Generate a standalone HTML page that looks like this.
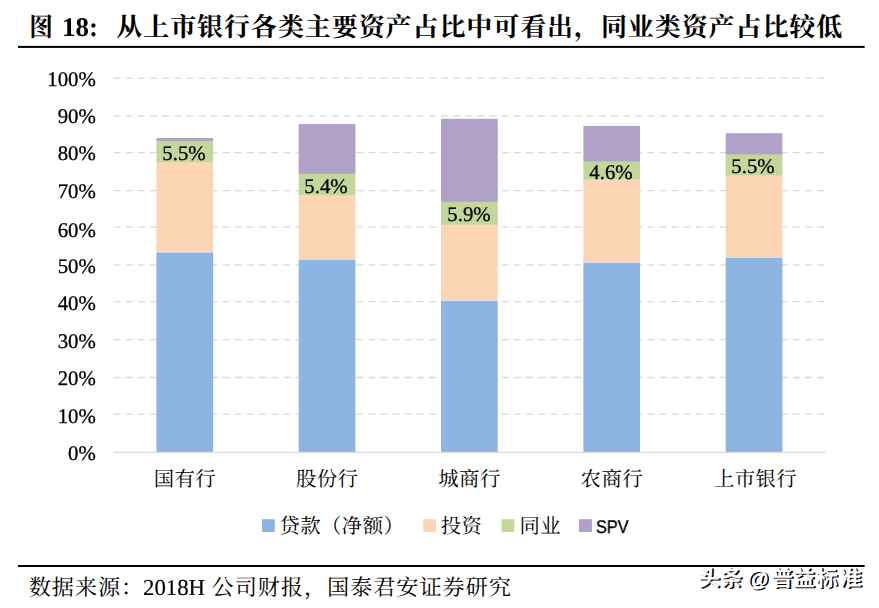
<!DOCTYPE html>
<html lang="zh-CN">
<head>
<meta charset="utf-8">
<title>图 18: 从上市银行各类主要资产占比中可看出，同业类资产占比较低</title>
<style>
html,body{margin:0;padding:0;background:#fff;}
body{width:879px;height:608px;position:relative;overflow:hidden;font-family:"Liberation Serif",serif;color:#000;text-rendering:geometricPrecision;}
#fig{position:absolute;left:0;top:0;width:879px;height:608px;}
#art{position:absolute;left:0;top:0;}
.t{position:absolute;white-space:pre;line-height:1;}
.t,.yl,.dl{will-change:transform;}
.yl,.dl{-webkit-text-stroke:0.3px #000;}
#snum{-webkit-text-stroke:0.15px #000;}
.yl{position:absolute;left:0;width:95.8px;text-align:right;font-size:20.8px;line-height:20.8px;height:20.8px;white-space:nowrap;}
.dl{position:absolute;width:80px;text-align:center;font-size:20.8px;line-height:20.8px;height:20.8px;white-space:nowrap;}
#tnum{left:62.0px;top:14.0px;font-size:27.0px;font-weight:bold;}
#snum{left:142.8px;top:577.2px;font-size:22.8px;}
#spv{left:596.2px;top:518.0px;font-size:18.4px;font-family:"Liberation Sans",sans-serif;transform:scaleX(0.885);transform-origin:0 0;-webkit-text-stroke:0.35px #000;}
</style>
</head>
<body>
<figure id="fig" style="margin:0">
<svg id="art" width="879" height="608" viewBox="0 0 879 608">
<line x1="113.6" x2="825.2" y1="414.10" y2="414.10" stroke="#D9D9D9" stroke-width="1.3" stroke-dasharray="7 5.13"/>
<line x1="113.6" x2="825.2" y1="377.50" y2="377.50" stroke="#D9D9D9" stroke-width="1.3" stroke-dasharray="7 5.13"/>
<line x1="113.6" x2="825.2" y1="339.60" y2="339.60" stroke="#D9D9D9" stroke-width="1.3" stroke-dasharray="7 5.13"/>
<line x1="113.6" x2="825.2" y1="301.60" y2="301.60" stroke="#D9D9D9" stroke-width="1.3" stroke-dasharray="7 5.13"/>
<line x1="113.6" x2="825.2" y1="264.80" y2="264.80" stroke="#D9D9D9" stroke-width="1.3" stroke-dasharray="7 5.13"/>
<line x1="113.6" x2="825.2" y1="226.90" y2="226.90" stroke="#D9D9D9" stroke-width="1.3" stroke-dasharray="7 5.13"/>
<line x1="113.6" x2="825.2" y1="190.60" y2="190.60" stroke="#D9D9D9" stroke-width="1.3" stroke-dasharray="7 5.13"/>
<line x1="113.6" x2="825.2" y1="152.70" y2="152.70" stroke="#D9D9D9" stroke-width="1.3" stroke-dasharray="7 5.13"/>
<line x1="113.6" x2="825.2" y1="115.80" y2="115.80" stroke="#D9D9D9" stroke-width="1.3" stroke-dasharray="7 5.13"/>
<line x1="113.6" x2="825.2" y1="78.20" y2="78.20" stroke="#D9D9D9" stroke-width="1.3" stroke-dasharray="7 5.13"/>
<rect x="156.41" y="252.40" width="56.70" height="200.00" fill="#8DB4E2"/>
<rect x="156.41" y="162.60" width="56.70" height="89.80" fill="#FCD5B4"/>
<rect x="156.41" y="141.40" width="56.70" height="21.20" fill="#C4D79B"/>
<rect x="156.41" y="138.00" width="56.70" height="3.40" fill="#B1A0C7"/>
<rect x="298.73" y="259.60" width="56.70" height="192.80" fill="#8DB4E2"/>
<rect x="298.73" y="195.50" width="56.70" height="64.10" fill="#FCD5B4"/>
<rect x="298.73" y="173.90" width="56.70" height="21.60" fill="#C4D79B"/>
<rect x="298.73" y="124.10" width="56.70" height="49.80" fill="#B1A0C7"/>
<rect x="441.05" y="300.70" width="56.70" height="151.70" fill="#8DB4E2"/>
<rect x="441.05" y="224.90" width="56.70" height="75.80" fill="#FCD5B4"/>
<rect x="441.05" y="201.90" width="56.70" height="23.00" fill="#C4D79B"/>
<rect x="441.05" y="118.80" width="56.70" height="83.10" fill="#B1A0C7"/>
<rect x="583.37" y="262.70" width="56.70" height="189.70" fill="#8DB4E2"/>
<rect x="583.37" y="179.60" width="56.70" height="83.10" fill="#FCD5B4"/>
<rect x="583.37" y="161.70" width="56.70" height="17.90" fill="#C4D79B"/>
<rect x="583.37" y="125.90" width="56.70" height="35.80" fill="#B1A0C7"/>
<rect x="725.69" y="257.50" width="56.70" height="194.90" fill="#8DB4E2"/>
<rect x="725.69" y="175.70" width="56.70" height="81.80" fill="#FCD5B4"/>
<rect x="725.69" y="154.70" width="56.70" height="21.00" fill="#C4D79B"/>
<rect x="725.69" y="133.20" width="56.70" height="21.50" fill="#B1A0C7"/>
<line x1="113.6" x2="825.2" y1="452.40" y2="452.40" stroke="#D9D9D9" stroke-width="1.4"/>
<rect x="262.0" y="519.2" width="12.8" height="12.8" fill="#8DB4E2"/>
<rect x="423.2" y="519.2" width="12.8" height="12.8" fill="#FCD5B4"/>
<rect x="501.5" y="519.2" width="12.8" height="12.8" fill="#C4D79B"/>
<rect x="579.1" y="519.2" width="12.8" height="12.8" fill="#B1A0C7"/>
<rect x="18" y="45.9" width="846.7" height="2.0" fill="#000"/>
<rect x="18" y="565.0" width="846.7" height="2.0" fill="#000"/>
<g role="img" aria-label="图 18: 从上市银行各类主要资产占比中可看出，同业类资产占比较低" font-family='"Liberation Serif","Noto Serif CJK SC",serif' font-weight="bold" font-size="26" fill="#000"><title>图 18: 从上市银行各类主要资产占比中可看出，同业类资产占比较低</title>
<text x="29.3" y="35.5" textLength="23.6" lengthAdjust="spacingAndGlyphs">图</text>
<text x="116.36" y="35.7" letter-spacing="0.92">从上市银行各类主要资产占比中可看出，同业类资产占比较低</text>
</g>
<g font-family='"Liberation Serif","Noto Serif CJK SC",serif' font-size="20.4" fill="#000" letter-spacing="0.4">
<g role="img" aria-label="国有行"><title>国有行</title>
<text x="153.66" y="486">国有行</text>
</g>
<g role="img" aria-label="股份行"><title>股份行</title>
<text x="295.98" y="486">股份行</text>
</g>
<g role="img" aria-label="城商行"><title>城商行</title>
<text x="438.30" y="486">城商行</text>
</g>
<g role="img" aria-label="农商行"><title>农商行</title>
<text x="580.62" y="486">农商行</text>
</g>
<g role="img" aria-label="上市银行"><title>上市银行</title>
<text x="713.94" y="486">上市银行</text>
</g>
<g role="img" aria-label="贷款（净额）"><title>贷款（净额）</title>
<text x="279.50" y="533">贷款（净额）</text>
</g>
<g role="img" aria-label="投资"><title>投资</title>
<text x="440.70" y="533">投资</text>
</g>
<g role="img" aria-label="同业"><title>同业</title>
<text x="519.50" y="533">同业</text>
</g>
</g>
<g role="img" aria-label="数据来源：2018H 公司财报，国泰君安证券研究" font-family='"Liberation Serif","Noto Serif CJK SC",serif' font-size="22.2" fill="#000" letter-spacing="0.9"><title>数据来源：2018H 公司财报，国泰君安证券研究</title>
<text x="28.70" y="594.7">数据来源：</text>
<text x="211.60" y="594.7">公司财报，国泰君安证券研究</text>
</g>
<g role="img" aria-label="头条 @普益标准" font-family='"Liberation Sans","Noto Sans CJK SC",sans-serif' font-weight="bold" font-size="22"><title>头条 @普益标准</title>
<text fill="#000" y="587.2" x="699.79 722.02 748.63 772.66 794.51 817.36 841.28">头条@普益标准</text>
<text fill="#fff" y="585.5" x="698.09 720.32 746.93 770.96 792.81 815.66 839.58">头条@普益标准</text>
</g>
</svg>
<div class="t" id="tnum">18:</div>
<div class="yl" style="top:443.80px">0%</div>
<div class="yl" style="top:407.28px">10%</div>
<div class="yl" style="top:368.96px">20%</div>
<div class="yl" style="top:331.54px">30%</div>
<div class="yl" style="top:294.12px">40%</div>
<div class="yl" style="top:256.70px">50%</div>
<div class="yl" style="top:220.68px">60%</div>
<div class="yl" style="top:181.86px">70%</div>
<div class="yl" style="top:144.44px">80%</div>
<div class="yl" style="top:107.02px">90%</div>
<div class="yl" style="top:69.60px">100%</div>
<div class="dl" style="left:143.96px;top:143.90px">5.5%</div>
<div class="dl" style="left:286.28px;top:176.60px">5.4%</div>
<div class="dl" style="left:428.60px;top:205.30px">5.9%</div>
<div class="dl" style="left:570.92px;top:162.55px">4.6%</div>
<div class="dl" style="left:713.24px;top:157.10px">5.5%</div>
<div class="t" id="spv">SPV</div>
<div class="t" id="snum">2018H</div>
</figure>
</body>
</html>
